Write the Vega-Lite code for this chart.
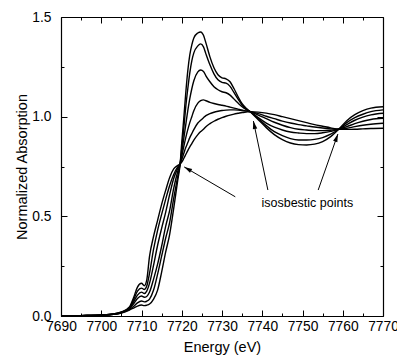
{
  "$schema": "https://vega.github.io/schema/vega-lite/v6.json",
  "width": 322,
  "height": 299,
  "autosize": {"type": "none"},
  "padding": {"left": 61, "top": 17, "right": 14, "bottom": 44},
  "background": "white",
  "config": {
    "font": "Liberation Sans",
    "view": {"stroke": null},
    "axis": {
      "grid": false,
      "domainColor": "black",
      "domainWidth": 1.2,
      "tickColor": "black",
      "tickWidth": 1,
      "labelColor": "black",
      "labelFontSize": 13.8,
      "labelFont": "Liberation Sans",
      "titleColor": "black",
      "titleFont": "Liberation Sans",
      "titleFontSize": 14.5,
      "titleFontWeight": "normal",
      "labelOverlap": false,
      "labelFlush": false
    }
  },
  "datasets": {
    "spectra": [
      {"energy": 7690, "c1": 0, "c2": 0, "c3": 0, "c4": 0, "c5": 0, "c6": 0},
      {"energy": 7695, "c1": 0.002, "c2": 0.002, "c3": 0.002, "c4": 0.002, "c5": 0.002, "c6": 0.002},
      {"energy": 7700, "c1": 0.004, "c2": 0.004, "c3": 0.004, "c4": 0.005, "c5": 0.005, "c6": 0.005},
      {"energy": 7703, "c1": 0.008, "c2": 0.008, "c3": 0.009, "c4": 0.009, "c5": 0.010, "c6": 0.010},
      {"energy": 7705, "c1": 0.015, "c2": 0.016, "c3": 0.017, "c4": 0.018, "c5": 0.019, "c6": 0.020},
      {"energy": 7707, "c1": 0.030, "c2": 0.033, "c3": 0.037, "c4": 0.040, "c5": 0.042, "c6": 0.045},
      {"energy": 7708, "c1": 0.040, "c2": 0.048, "c3": 0.060, "c4": 0.070, "c5": 0.080, "c6": 0.090},
      {"energy": 7709, "c1": 0.050, "c2": 0.066, "c3": 0.088, "c4": 0.105, "c5": 0.125, "c6": 0.145},
      {"energy": 7710, "c1": 0.055, "c2": 0.075, "c3": 0.100, "c4": 0.120, "c5": 0.140, "c6": 0.164},
      {"energy": 7710.7, "c1": 0.052, "c2": 0.071, "c3": 0.094, "c4": 0.113, "c5": 0.133, "c6": 0.152},
      {"energy": 7711.3, "c1": 0.054, "c2": 0.074, "c3": 0.098, "c4": 0.125, "c5": 0.150, "c6": 0.180},
      {"energy": 7712, "c1": 0.060, "c2": 0.085, "c3": 0.120, "c4": 0.165, "c5": 0.215, "c6": 0.300},
      {"energy": 7713, "c1": 0.085, "c2": 0.130, "c3": 0.185, "c4": 0.255, "c5": 0.335, "c6": 0.400},
      {"energy": 7714, "c1": 0.130, "c2": 0.210, "c3": 0.260, "c4": 0.355, "c5": 0.430, "c6": 0.480},
      {"energy": 7715, "c1": 0.220, "c2": 0.300, "c3": 0.350, "c4": 0.440, "c5": 0.510, "c6": 0.560},
      {"energy": 7716, "c1": 0.320, "c2": 0.390, "c3": 0.450, "c4": 0.520, "c5": 0.585, "c6": 0.630},
      {"energy": 7717, "c1": 0.410, "c2": 0.470, "c3": 0.530, "c4": 0.610, "c5": 0.655, "c6": 0.695},
      {"energy": 7718, "c1": 0.540, "c2": 0.590, "c3": 0.640, "c4": 0.690, "c5": 0.710, "c6": 0.738},
      {"energy": 7719, "c1": 0.680, "c2": 0.700, "c3": 0.725, "c4": 0.740, "c5": 0.748, "c6": 0.755},
      {"energy": 7719.6, "c1": 0.763, "c2": 0.763, "c3": 0.763, "c4": 0.763, "c5": 0.763, "c6": 0.763},
      {"energy": 7720, "c1": 0.870, "c2": 0.840, "c3": 0.820, "c4": 0.800, "c5": 0.785, "c6": 0.772},
      {"energy": 7720.5, "c1": 0.990, "c2": 0.940, "c3": 0.890, "c4": 0.850, "c5": 0.815, "c6": 0.790},
      {"energy": 7721, "c1": 1.120, "c2": 1.050, "c3": 0.960, "c4": 0.895, "c5": 0.845, "c6": 0.810},
      {"energy": 7721.5, "c1": 1.230, "c2": 1.140, "c3": 1.030, "c4": 0.935, "c5": 0.870, "c6": 0.830},
      {"energy": 7722, "c1": 1.310, "c2": 1.220, "c3": 1.090, "c4": 0.970, "c5": 0.895, "c6": 0.848},
      {"energy": 7722.5, "c1": 1.360, "c2": 1.280, "c3": 1.140, "c4": 1.000, "c5": 0.915, "c6": 0.865},
      {"energy": 7723, "c1": 1.395, "c2": 1.320, "c3": 1.180, "c4": 1.030, "c5": 0.935, "c6": 0.882},
      {"energy": 7724, "c1": 1.420, "c2": 1.355, "c3": 1.225, "c4": 1.068, "c5": 0.968, "c6": 0.910},
      {"energy": 7724.7, "c1": 1.425, "c2": 1.365, "c3": 1.234, "c4": 1.080, "c5": 0.982, "c6": 0.925},
      {"energy": 7725.4, "c1": 1.408, "c2": 1.350, "c3": 1.227, "c4": 1.084, "c5": 0.995, "c6": 0.937},
      {"energy": 7726, "c1": 1.370, "c2": 1.315, "c3": 1.205, "c4": 1.080, "c5": 1.005, "c6": 0.950},
      {"energy": 7727, "c1": 1.300, "c2": 1.260, "c3": 1.175, "c4": 1.072, "c5": 1.015, "c6": 0.965},
      {"energy": 7728, "c1": 1.245, "c2": 1.215, "c3": 1.150, "c4": 1.066, "c5": 1.022, "c6": 0.977},
      {"energy": 7729, "c1": 1.210, "c2": 1.185, "c3": 1.135, "c4": 1.061, "c5": 1.027, "c6": 0.987},
      {"energy": 7730, "c1": 1.195, "c2": 1.172, "c3": 1.125, "c4": 1.057, "c5": 1.031, "c6": 0.995},
      {"energy": 7731, "c1": 1.190, "c2": 1.168, "c3": 1.120, "c4": 1.053, "c5": 1.033, "c6": 1.002},
      {"energy": 7732, "c1": 1.175, "c2": 1.152, "c3": 1.108, "c4": 1.048, "c5": 1.034, "c6": 1.008},
      {"energy": 7733, "c1": 1.140, "c2": 1.120, "c3": 1.088, "c4": 1.043, "c5": 1.034, "c6": 1.013},
      {"energy": 7734, "c1": 1.100, "c2": 1.088, "c3": 1.068, "c4": 1.038, "c5": 1.033, "c6": 1.017},
      {"energy": 7735, "c1": 1.065, "c2": 1.058, "c3": 1.050, "c4": 1.033, "c5": 1.031, "c6": 1.021},
      {"energy": 7736, "c1": 1.042, "c2": 1.038, "c3": 1.036, "c4": 1.029, "c5": 1.028, "c6": 1.023},
      {"energy": 7737, "c1": 1.025, "c2": 1.025, "c3": 1.025, "c4": 1.025, "c5": 1.025, "c6": 1.025},
      {"energy": 7739, "c1": 0.985, "c2": 0.990, "c3": 0.995, "c4": 1.008, "c5": 1.015, "c6": 1.023},
      {"energy": 7741, "c1": 0.945, "c2": 0.955, "c3": 0.968, "c4": 0.990, "c5": 1.002, "c6": 1.018},
      {"energy": 7743, "c1": 0.910, "c2": 0.925, "c3": 0.947, "c4": 0.972, "c5": 0.990, "c6": 1.010},
      {"energy": 7745, "c1": 0.885, "c2": 0.905, "c3": 0.933, "c4": 0.957, "c5": 0.978, "c6": 1.000},
      {"energy": 7747, "c1": 0.868, "c2": 0.890, "c3": 0.923, "c4": 0.945, "c5": 0.968, "c6": 0.990},
      {"energy": 7749, "c1": 0.860, "c2": 0.883, "c3": 0.918, "c4": 0.937, "c5": 0.960, "c6": 0.980},
      {"energy": 7751, "c1": 0.858, "c2": 0.883, "c3": 0.915, "c4": 0.933, "c5": 0.954, "c6": 0.970},
      {"energy": 7753, "c1": 0.862, "c2": 0.886, "c3": 0.915, "c4": 0.930, "c5": 0.948, "c6": 0.960},
      {"energy": 7755, "c1": 0.875, "c2": 0.895, "c3": 0.919, "c4": 0.930, "c5": 0.943, "c6": 0.952},
      {"energy": 7757, "c1": 0.900, "c2": 0.912, "c3": 0.926, "c4": 0.932, "c5": 0.939, "c6": 0.944},
      {"energy": 7759, "c1": 0.937, "c2": 0.937, "c3": 0.937, "c4": 0.937, "c5": 0.937, "c6": 0.937},
      {"energy": 7761, "c1": 0.980, "c2": 0.970, "c3": 0.960, "c4": 0.950, "c5": 0.942, "c6": 0.936},
      {"energy": 7763, "c1": 1.010, "c2": 0.995, "c3": 0.982, "c4": 0.965, "c5": 0.950, "c6": 0.937},
      {"energy": 7765, "c1": 1.030, "c2": 1.012, "c3": 0.998, "c4": 0.977, "c5": 0.957, "c6": 0.939},
      {"energy": 7767, "c1": 1.043, "c2": 1.025, "c3": 1.009, "c4": 0.986, "c5": 0.962, "c6": 0.941},
      {"energy": 7770, "c1": 1.050, "c2": 1.034, "c3": 1.017, "c4": 0.992, "c5": 0.967, "c6": 0.942}
    ],
    "arrows": [
      {"energy": 7733.3, "absorption": 0.598, "energy2": 7720.6, "absorption2": 0.748},
      {"energy": 7741.4, "absorption": 0.632, "energy2": 7737.8, "absorption2": 0.978},
      {"energy": 7753.9, "absorption": 0.632, "energy2": 7758.8, "absorption2": 0.913}
    ]
  },
  "resolve": {"axis": {"x": "independent", "y": "independent"}},
  "layer": [
    {
      "data": {"name": "spectra"},
      "transform": [{"fold": ["c1", "c2", "c3", "c4", "c5", "c6"], "as": ["curve", "absorption"]}],
      "mark": {"type": "line", "interpolate": "monotone", "color": "black", "strokeWidth": 1.4},
      "encoding": {
        "x": {
          "field": "energy", "type": "quantitative",
          "scale": {"domain": [7690, 7770], "nice": false, "zero": false},
          "axis": {
            "orient": "bottom",
            "title": "Energy (eV)",
            "format": "d",
            "values": [7690, 7695, 7700, 7705, 7710, 7715, 7720, 7725, 7730, 7735, 7740, 7745, 7750, 7755, 7760, 7765, 7770],
            "labelExpr": "datum.value % 10 === 0 ? datum.label : ''",
            "tickSize": {"condition": {"test": "datum.value % 10 === 0", "value": -6}, "value": -3},
            "labelPadding": 9,
            "titlePadding": 5
          }
        },
        "y": {
          "field": "absorption", "type": "quantitative",
          "scale": {"domain": [0, 1.5], "nice": false},
          "axis": {
            "orient": "left",
            "title": "Normalized Absorption",
            "values": [0, 0.25, 0.5, 0.75, 1, 1.25, 1.5],
            "labelExpr": "datum.value % 0.5 === 0 ? format(datum.value, '.1f') : ''",
            "tickSize": {"condition": {"test": "datum.value % 0.5 === 0", "value": -6}, "value": -3},
            "labelPadding": 16,
            "titlePadding": 2.5
          }
        },
        "detail": {"field": "curve"}
      }
    },
    {
      "data": {"name": "arrows"},
      "mark": {"type": "rule", "color": "black", "strokeWidth": 1},
      "encoding": {
        "x": {"field": "energy", "type": "quantitative", "scale": {"domain": [7690, 7770], "nice": false, "zero": false}, "axis": null},
        "y": {"field": "absorption", "type": "quantitative", "scale": {"domain": [0, 1.5], "nice": false}, "axis": null},
        "x2": {"field": "energy2"},
        "y2": {"field": "absorption2"}
      }
    },
    {
      "data": {"values": [{"energy": 7720.6, "absorption": 0.748}]},
      "mark": {"type": "point", "shape": "M0,0L0.45,1.6L-0.45,1.6Z", "size": 100, "filled": true, "color": "black", "opacity": 1, "angle": 300},
      "encoding": {
        "x": {"field": "energy", "type": "quantitative", "scale": {"domain": [7690, 7770], "nice": false, "zero": false}, "axis": null},
        "y": {"field": "absorption", "type": "quantitative", "scale": {"domain": [0, 1.5], "nice": false}, "axis": null}
      }
    },
    {
      "data": {"values": [{"energy": 7737.8, "absorption": 0.978}]},
      "mark": {"type": "point", "shape": "M0,0L0.45,1.6L-0.45,1.6Z", "size": 100, "filled": true, "color": "black", "opacity": 1, "angle": 348},
      "encoding": {
        "x": {"field": "energy", "type": "quantitative", "scale": {"domain": [7690, 7770], "nice": false, "zero": false}, "axis": null},
        "y": {"field": "absorption", "type": "quantitative", "scale": {"domain": [0, 1.5], "nice": false}, "axis": null}
      }
    },
    {
      "data": {"values": [{"energy": 7758.8, "absorption": 0.913}]},
      "mark": {"type": "point", "shape": "M0,0L0.45,1.6L-0.45,1.6Z", "size": 100, "filled": true, "color": "black", "opacity": 1, "angle": 19.6},
      "encoding": {
        "x": {"field": "energy", "type": "quantitative", "scale": {"domain": [7690, 7770], "nice": false, "zero": false}, "axis": null},
        "y": {"field": "absorption", "type": "quantitative", "scale": {"domain": [0, 1.5], "nice": false}, "axis": null}
      }
    },
    {
      "data": {"values": [{"energy": 7751.2, "absorption": 0.568, "label": "isosbestic points"}]},
      "mark": {"type": "text", "fontSize": 12.5, "font": "Liberation Sans", "color": "black", "align": "center", "baseline": "middle"},
      "encoding": {
        "x": {
          "field": "energy", "type": "quantitative",
          "scale": {"domain": [7690, 7770], "nice": false, "zero": false},
          "axis": {
            "orient": "top", "title": null, "labels": false,
            "values": [7690, 7695, 7700, 7705, 7710, 7715, 7720, 7725, 7730, 7735, 7740, 7745, 7750, 7755, 7760, 7765, 7770],
            "tickSize": {"condition": {"test": "datum.value % 10 === 0", "value": -6}, "value": -3}
          }
        },
        "y": {
          "field": "absorption", "type": "quantitative",
          "scale": {"domain": [0, 1.5], "nice": false},
          "axis": {
            "orient": "right", "title": null, "labels": false,
            "values": [0, 0.25, 0.5, 0.75, 1, 1.25, 1.5],
            "tickSize": {"condition": {"test": "datum.value % 0.5 === 0", "value": -6}, "value": -3}
          }
        },
        "text": {"field": "label"}
      }
    }
  ]
}
